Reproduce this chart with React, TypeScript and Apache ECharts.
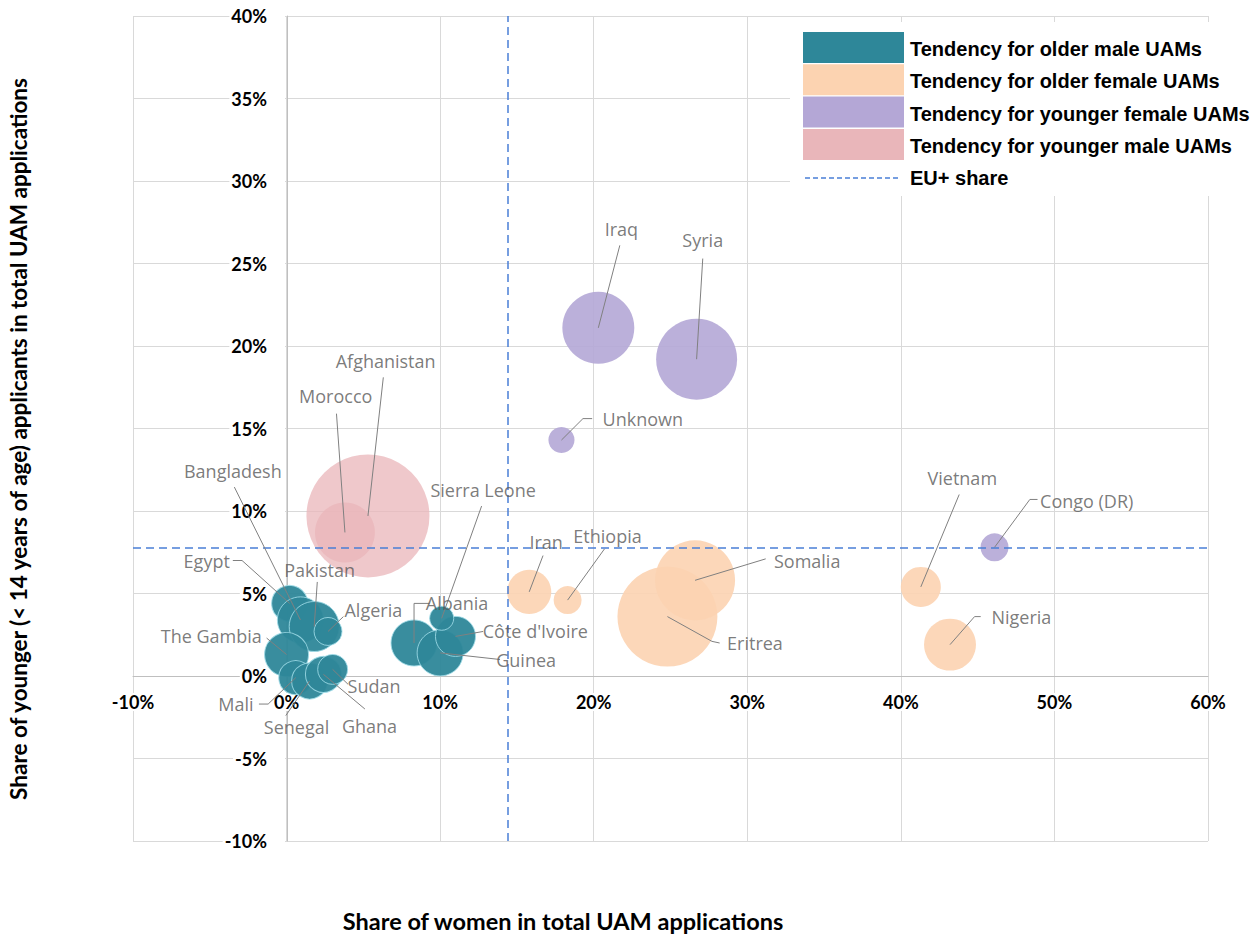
import React, { useEffect, useRef } from "react";
import * as echarts from "echarts";

// ---------- DATA ----------
const legendNames = [
  "Tendency for older male UAMs",
  "Tendency for older female UAMs",
  "Tendency for younger female UAMs",
  "Tendency for younger male UAMs",
];
const groupColors = ["#2E8799", "#FCD3B1", "#B4A7D6", "#E9B6BA"];

const countries = [
  "Egypt", "Bangladesh", "Pakistan", "Algeria", "The Gambia", "Mali", "Senegal", "Ghana", "Sudan",
  "Albania", "Guinea", "Côte d'Ivoire", "Sierra Leone",
  "Iran", "Ethiopia", "Eritrea", "Somalia", "Vietnam", "Nigeria",
  "Iraq", "Syria", "Unknown", "Congo (DR)",
  "Afghanistan", "Morocco",
];
// 0 older male, 1 older female, 2 younger female, 3 younger male
const tendency = [
  0, 0, 0, 0, 0, 0, 0, 0, 0,
  0, 0, 0, 0,
  1, 1, 1, 1, 1, 1,
  2, 2, 2, 2,
  3, 3,
];
// share of women in total UAM applications (%)
const shareWomen = [
  0.2, 0.9, 1.8, 2.7, 0.0, 0.6, 1.5, 2.4, 3.0,
  8.3, 10.0, 11.0, 10.1,
  15.8, 18.3, 24.8, 26.6, 41.3, 43.2,
  20.3, 26.7, 17.9, 46.1,
  5.3, 3.8,
];
// share of younger (<14) applicants in total UAM applications (%)
const shareYounger = [
  4.4, 3.4, 3.0, 2.7, 1.3, -0.1, -0.3, 0.1, 0.4,
  2.0, 1.4, 2.4, 3.5,
  5.1, 4.6, 3.6, 5.8, 5.4, 1.9,
  21.1, 19.2, 14.3, 7.8,
  9.7, 8.7,
];
// bubble size: UAM applications (estimated)
const applications = [
  1030, 1680, 1980, 620, 1540, 920, 1030, 1030, 710,
  1680, 1680, 1270, 460,
  1540, 620, 7930, 5080, 1270, 2140,
  4110, 5200, 540, 620,
  12000, 2850,
];
const euShareWomen = 14.4;
const euShareYounger = 7.75;

const xTicks = { min: -10, max: 60, interval: 10 };
const yTicks = { min: -10, max: 40, interval: 5 };

// ---------- LABEL LAYOUT (data coords: text centre, leader path to bubble) ----------
const labelLayout: { at: number[]; leader: number[][] }[] = [
  { at: [-5.2, 7.0], leader: [[-3.5, 7.0], [-2.9, 7.0]] },
  { at: [-3.5, 12.4], leader: [[-3.4, 11.45]] },
  { at: [2.15, 6.4], leader: [[2.0, 5.7]] },
  { at: [5.65, 4.0], leader: [[3.7, 3.6]] },
  { at: [-4.9, 2.4], leader: [[-1.3, 2.3]] },
  { at: [-3.3, -1.7], leader: [[-1.8, -1.7], [-1.2, -1.7]] },
  { at: [0.65, -3.1], leader: [[-0.05, -2.4]] },
  { at: [5.4, -3.0], leader: [[5.1, -2.0]] },
  { at: [5.7, -0.6], leader: [[4.0, -0.5]] },
  { at: [11.1, 4.4], leader: [[9.3, 4.4], [8.3, 4.4]] },
  { at: [15.6, 1.0], leader: [[13.9, 1.0]] },
  { at: [16.2, 2.7], leader: [[12.8, 2.7]] },
  { at: [12.8, 11.3], leader: [[12.7, 10.3]] },
  { at: [16.9, 8.1], leader: [[16.7, 7.3]] },
  { at: [20.9, 8.5], leader: [[20.7, 7.7]] },
  { at: [30.5, 2.0], leader: [[28.2, 2.0], [27.7, 2.1]] },
  { at: [33.9, 7.0], leader: [[31.2, 7.1]] },
  { at: [44.0, 12.0], leader: [[43.8, 11.0]] },
  { at: [47.85, 3.6], leader: [[45.2, 3.6], [44.8, 3.6]] },
  { at: [21.8, 27.1], leader: [[21.7, 26.1]] },
  { at: [27.1, 26.4], leader: [[27.1, 25.3]] },
  { at: [23.2, 15.6], leader: [[19.9, 15.6], [19.3, 15.6]] },
  { at: [52.1, 10.6], leader: [[48.9, 10.7], [48.4, 10.7]] },
  { at: [6.45, 19.1], leader: [[6.3, 18.1]] },
  { at: [3.2, 17.0], leader: [[3.25, 15.9]] },
];

const MAX_DIAMETER = 123;

export default function App() {
  const ref = useRef<HTMLDivElement>(null);

  useEffect(() => {
    if (!ref.current) return;
    const chart = echarts.init(ref.current, null, { renderer: "svg" });
    const maxApps = Math.max(...applications);

    const bubbleSeries = legendNames.map((name, g) => ({
      name,
      type: "scatter",
      z: 2,
      data: countries
        .map((c, i) => ({ c, i }))
        .filter(({ i }) => tendency[i] === g)
        .map(({ c, i }) => ({
          name: c,
          value: [shareWomen[i], shareYounger[i], applications[i]],
        })),
      symbolSize: (v: number[]) => Math.sqrt(v[2] / maxApps) * MAX_DIAMETER,
      itemStyle: {
        color: groupColors[g],
        opacity: g === 0 ? 0.95 : g === 3 ? 0.75 : 0.9,
        borderColor: g === 0 ? "rgba(160,220,232,0.9)" : "rgba(255,255,255,0)",
        borderWidth: g === 0 ? 1 : 0,
      },
    }));

    const font = "Open Sans";
    const axisLabelStyle = {
      formatter: "{value}%",
      fontFamily: "Lato",
      fontWeight: "bold",
      fontSize: 18,
      color: "#000",
      backgroundColor: "#fff",
    };
    const legendFont = "bold 20px 'Liberation Sans', Arial";

    const option: any = {
      animation: false,
      backgroundColor: "#ffffff",
      grid: { left: 133, right: 50, top: 16, bottom: 97, containLabel: false },
      xAxis: {
        type: "value",
        ...xTicks,
        position: "bottom",
        offset: -165,
        axisLine: { onZero: false, lineStyle: { color: "#bfbfbf", width: 1 } },
        axisTick: { show: false },
        splitLine: { show: true, lineStyle: { color: "#d9d9d9", width: 1 } },
        axisLabel: { ...axisLabelStyle, margin: 17, padding: [0, 2] },
      },
      yAxis: {
        type: "value",
        ...yTicks,
        position: "left",
        offset: -154,
        axisLine: { onZero: false, lineStyle: { color: "#bfbfbf", width: 1 } },
        axisTick: { show: false },
        splitLine: { show: true, lineStyle: { color: "#d9d9d9", width: 1 } },
        axisLabel: { ...axisLabelStyle, margin: 2, padding: [0, 18, 0, 2] },
      },
      series: [
        ...bubbleSeries,
        {
          name: "leaders",
          type: "lines",
          coordinateSystem: "cartesian2d",
          polyline: true,
          silent: true,
          z: 5,
          lineStyle: { color: "#808080", width: 1, opacity: 1 },
          data: labelLayout.map((l, i) => ({
            coords: [...l.leader, [shareWomen[i], shareYounger[i]]],
          })),
        },
        {
          name: "labels",
          type: "scatter",
          z: 6,
          silent: true,
          symbolSize: 1,
          itemStyle: { color: "rgba(0,0,0,0)" },
          data: labelLayout.map((l, i) => ({ name: countries[i], value: l.at })),
          label: {
            show: true,
            position: "inside",
            formatter: (p: any) => p.name,
            fontFamily: font,
            fontSize: 18,
            color: "#595959",
          },
          markLine: {
            silent: true,
            symbol: ["none", "none"],
            label: { show: false },
            lineStyle: { type: [8, 5], color: "#4A7FD6", width: 1.5 },
            data: [{ xAxis: euShareWomen }, { yAxis: euShareYounger }],
          },
        },
      ],
      graphic: [
        {
          type: "text",
          x: 563,
          y: 921,
          z: 100,
          style: {
            text: "Share of women in total UAM applications",
            align: "center",
            verticalAlign: "middle",
            font: "bold 23.5px Lato",
            fill: "#000",
          },
        },
        {
          type: "text",
          x: 18,
          y: 439,
          z: 100,
          rotation: Math.PI / 2,
          style: {
            text: "Share of younger (< 14 years of age) applicants in total UAM applications",
            align: "center",
            verticalAlign: "middle",
            font: "bold 22.5px Lato",
            fill: "#000",
          },
        },
        { type: "rect", z: 100, shape: { x: 790, y: 22, width: 468, height: 174 }, style: { fill: "#fff" } },
        ...legendNames.map((n, i) => ({
          type: "rect",
          z: 101,
          shape: { x: 803, y: 32 + i * 32.3, width: 101, height: 31 },
          style: { fill: groupColors[i] },
        })),
        ...legendNames.map((n, i) => ({
          type: "text",
          z: 101,
          x: 910,
          y: 49 + i * 32.3,
          style: { text: n, font: legendFont, fill: "#000", verticalAlign: "middle" },
        })),
        {
          type: "line",
          z: 101,
          shape: { x1: 805, y1: 178, x2: 898, y2: 178 },
          style: { stroke: "#4A7FD6", lineWidth: 1.5, lineDash: [5, 3] },
        },
        {
          type: "text",
          z: 101,
          x: 910,
          y: 178,
          style: { text: "EU+ share", font: legendFont, fill: "#000", verticalAlign: "middle" },
        },
      ],
    };
    chart.setOption(option);
    return () => chart.dispose();
  }, []);

  return (
    <div
      ref={ref}
      style={{ position: "absolute", left: 0, top: 0, width: 1258, height: 938, background: "#fff" }}
    />
  );
}
